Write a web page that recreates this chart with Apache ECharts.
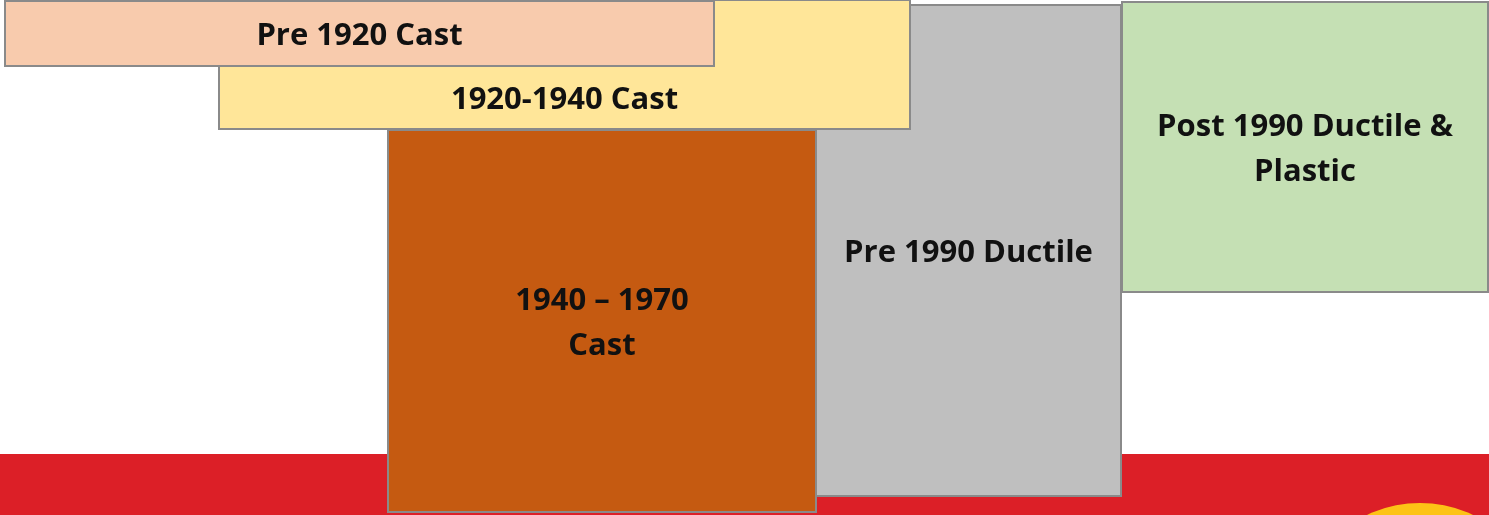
<!DOCTYPE html>
<html>
    <head>
        <meta charset="utf-8">
        <script src="https://cdn.jsdelivr.net/npm/echarts@6/dist/echarts.min.js"></script>
        <style>
            html, body { margin: 0; padding: 0; background: #fff; }
        </style>
    </head>
    <body>
        <div id="main" style="width: 1489px;height:515px;"></div>
        <script type="text/javascript">

        // boxes, listed in drawing order (later ones sit on top)
        var boxNames  = ['Pre 1990 Ductile', 'Post 1990 Ductile &\nPlastic', '1920-1940 Cast', 'Pre 1920 Cast', '1940 \u2013 1970\nCast'];
        var boxStart  = [816, 1122, 219, 5, 388];
        var boxEnd    = [1121, 1488, 910, 714, 816];
        var boxTop    = [5, 2, 0, 1, 130];
        var boxBottom = [496, 292, 129, 66, 512];
        var boxColors = ['#bfbfbf', '#c5e0b4', '#ffe699', '#f8cbad', '#c55a11'];

        // red strip along the bottom
        var bandTop = 454;
        var bandBottom = 515;

        var myChart = echarts.init(document.getElementById('main'));

        var boxData = [];
        for (var i = 0; i < boxNames.length; i++) {
            boxData.push([boxStart[i], boxEnd[i], boxTop[i], boxBottom[i]]);
        }

        // label goes in the middle of the part that is not covered by a later box
        function visibleTop(i) {
            var t = boxTop[i];
            for (var j = i + 1; j < boxNames.length; j++) {
                var covers = boxStart[j] <= boxStart[i] + 20 && boxEnd[j] > (boxStart[i] + boxEnd[i]) / 2;
                if (covers && boxTop[j] <= t + 5 && boxBottom[j] > t) t = boxBottom[j];
            }
            return t;
        }

        option = {
            animation: false,
            grid: { left: 0, right: 0, top: 0, bottom: 0 },
            xAxis: { type: 'value', min: 0, max: 1489, show: false },
            yAxis: { type: 'value', min: 0, max: 515, inverse: true, show: false },
            graphic: [{
                type: 'circle',
                shape: { cx: 1420, cy: 626, r: 123 },
                style: { fill: '#fdc316' },
                z: 100
            }],
            series: [{
                name: 'band',
                type: 'custom',
                silent: true,
                z: 1,
                data: [[0, 1489, bandTop, bandBottom]],
                renderItem: function (params, api) {
                    var p0 = api.coord([api.value(0), api.value(2)]);
                    var p1 = api.coord([api.value(1), api.value(3)]);
                    return {
                        type: 'rect',
                        shape: { x: p0[0], y: p0[1], width: p1[0] - p0[0], height: p1[1] - p0[1] },
                        style: { fill: '#dc1f27' }
                    };
                }
            }, {
                name: 'boxes',
                type: 'custom',
                silent: true,
                z: 2,
                data: boxData,
                renderItem: function (params, api) {
                    var i = params.dataIndex;
                    var p0 = api.coord([api.value(0), api.value(2)]);
                    var p1 = api.coord([api.value(1), api.value(3)]);
                    var lt = api.coord([0, visibleTop(i)])[1];
                    return {
                        type: 'group',
                        children: [{
                            type: 'rect',
                            shape: { x: p0[0], y: p0[1], width: p1[0] - p0[0], height: p1[1] - p0[1] },
                            style: { fill: boxColors[i], stroke: '#8a8a8a', lineWidth: 2 }
                        }, {
                            type: 'text',
                            style: {
                                text: boxNames[i],
                                x: (p0[0] + p1[0]) / 2,
                                y: (lt + p1[1]) / 2 + 3,
                                align: 'center',
                                verticalAlign: 'middle',
                                font: 'bold 31px "Open Sans"',
                                lineHeight: 45,
                                fill: '#111'
                            }
                        }]
                    };
                }
            }]
        };
        myChart.setOption(option);
        </script>
    </body>
</html>
